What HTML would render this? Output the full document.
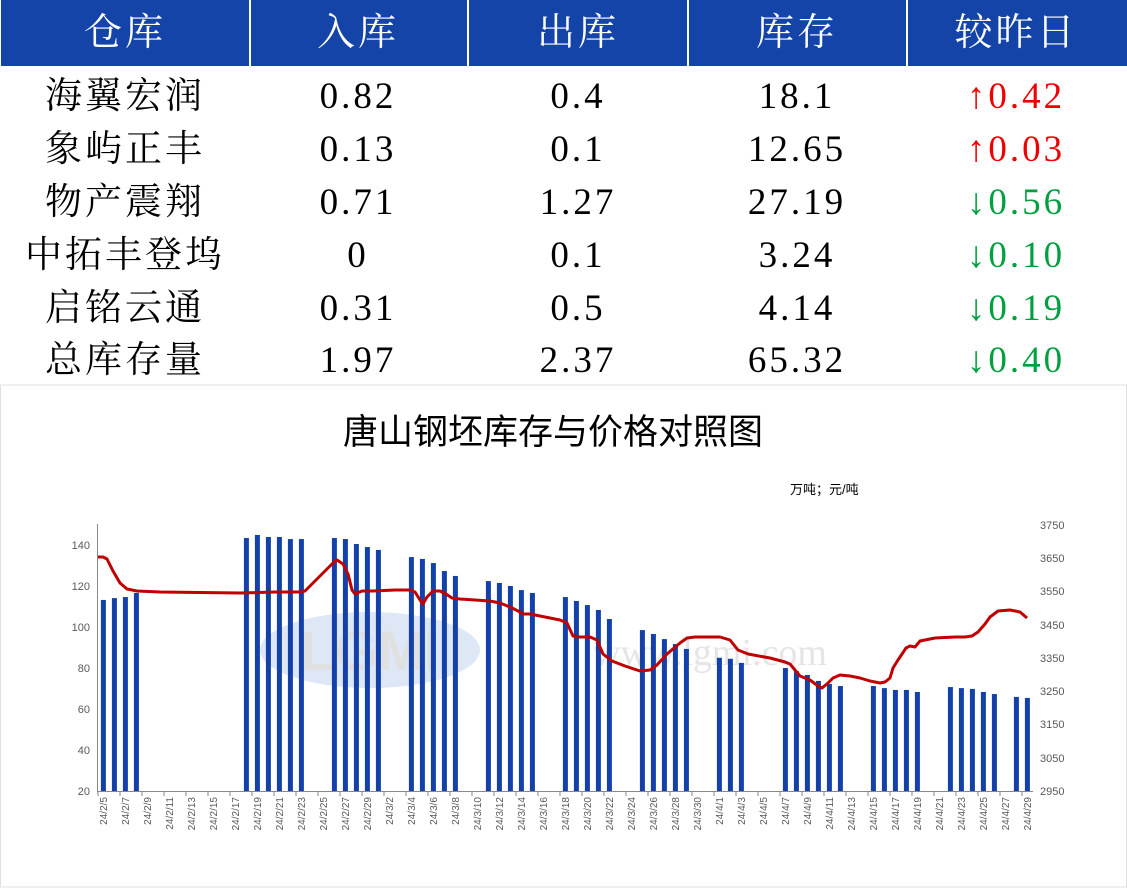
<!DOCTYPE html>
<html><head><meta charset="utf-8"><style>
body{margin:0;width:1127px;height:888px;background:#fff;overflow:hidden;position:relative;font-family:"Liberation Serif","Noto Serif CJK SC",serif}
.hd{position:absolute;left:1px;top:0;width:1126px;height:66px;background:#1544a8}
.c{position:absolute;text-align:center;width:220px;font-size:37px;line-height:52px;color:#000;letter-spacing:3px}
.h{color:#fff;font-size:38px;line-height:66px;top:0}
.sep{position:absolute;top:0;width:2px;height:66px;background:#fff}
.r{color:#e00}.g{color:#00a040}
</style></head><body>
<div class="hd"></div>
<div class="sep" style="left:249px"></div><div class="sep" style="left:467px"></div><div class="sep" style="left:687px"></div><div class="sep" style="left:906px"></div>
<div class="c h" style="left:15px">仓库</div><div class="c h" style="left:248px">入库</div><div class="c h" style="left:468px">出库</div><div class="c h" style="left:687px">库存</div><div class="c h" style="left:906px">较昨日</div>

<div class="c" style="left:15px;top:71px">海翼宏润</div><div class="c" style="left:248px;top:71px">0.82</div><div class="c" style="left:468px;top:71px">0.4</div><div class="c" style="left:687px;top:71px">18.1</div><div class="c r" style="left:906px;top:71px">↑0.42</div>
<div class="c" style="left:15px;top:124px">象屿正丰</div><div class="c" style="left:248px;top:124px">0.13</div><div class="c" style="left:468px;top:124px">0.1</div><div class="c" style="left:687px;top:124px">12.65</div><div class="c r" style="left:906px;top:124px">↑0.03</div>
<div class="c" style="left:15px;top:177px">物产震翔</div><div class="c" style="left:248px;top:177px">0.71</div><div class="c" style="left:468px;top:177px">1.27</div><div class="c" style="left:687px;top:177px">27.19</div><div class="c g" style="left:906px;top:177px">↓0.56</div>
<div class="c" style="left:15px;top:230px">中拓丰登坞</div><div class="c" style="left:248px;top:230px">0</div><div class="c" style="left:468px;top:230px">0.1</div><div class="c" style="left:687px;top:230px">3.24</div><div class="c g" style="left:906px;top:230px">↓0.10</div>
<div class="c" style="left:15px;top:283px">启铭云通</div><div class="c" style="left:248px;top:283px">0.31</div><div class="c" style="left:468px;top:283px">0.5</div><div class="c" style="left:687px;top:283px">4.14</div><div class="c g" style="left:906px;top:283px">↓0.19</div>
<div class="c" style="left:15px;top:335px">总库存量</div><div class="c" style="left:248px;top:335px">1.97</div><div class="c" style="left:468px;top:335px">2.37</div><div class="c" style="left:687px;top:335px">65.32</div><div class="c g" style="left:906px;top:335px">↓0.40</div>

<svg style="position:absolute;left:0;top:0" width="1127" height="888" font-family="Liberation Sans, Noto Sans CJK SC, sans-serif">
<rect x="0.5" y="385" width="1126" height="502" fill="none" stroke="#e0e0e0"/>
<text x="553" y="444" font-size="35" text-anchor="middle" fill="#000">唐山钢坯库存与价格对照图</text>
<text x="790" y="494" font-size="13" fill="#000">万吨；元/吨</text>
<g opacity="0.25"><ellipse cx="370" cy="650" rx="110" ry="38" fill="#7aa2d8"/><text x="370" y="670" font-size="56" text-anchor="middle" fill="#888" font-weight="bold">LGMI</text><text x="710" y="665" font-size="38" text-anchor="middle" fill="#999" font-family="Liberation Serif,serif">www.lgmi.com</text></g>
<g font-size="11" fill="#595959" text-anchor="end">
<text x="90" y="549">140</text><text x="90" y="590">120</text><text x="90" y="631">100</text><text x="90" y="672">80</text><text x="90" y="713">60</text><text x="90" y="754">40</text><text x="90" y="795">20</text>
</g>
<g font-size="11" fill="#595959">
<text x="1040" y="529">3750</text><text x="1040" y="562">3650</text><text x="1040" y="595">3550</text><text x="1040" y="629">3450</text><text x="1040" y="662">3350</text><text x="1040" y="695">3250</text><text x="1040" y="728">3150</text><text x="1040" y="762">3050</text><text x="1040" y="795">2950</text>
</g>
<line x1="97.5" y1="524" x2="97.5" y2="791" stroke="#888"/>
<line x1="97" y1="791.5" x2="1033" y2="791.5" stroke="#888"/>
<g id="bars" fill="#1341a9"></g>
<g id="ticks" stroke="#888"></g>
<polyline fill="none" stroke="#c00000" stroke-width="3" stroke-linejoin="round" points="98,557 103,557 107,559 113,571 120,583 127,589 137,591 160,592 240,593 275,592 300,592 305,591 320,576 334,562 337,560 343,564 348,574 352,590 355,594 362,591 372,591 395,590 410,590 415,592 420,600 423,604 427,597 433,591 440,591 446,594 452,598 460,599 490,601 500,603 510,607 518,611 523,614 530,614 545,617 560,620 567,623 573,636 580,637 590,637 597,640 603,654 612,661 625,666 640,671 650,670 657,665 667,654 680,643 687,638 695,637 720,637 730,640 738,650 748,654 770,658 785,662 790,664 795,670 800,676 810,680 818,686 822,688 828,683 833,678 840,675 850,676 860,678 870,681 880,683 885,682 890,678 893,668 898,660 902,654 906,648 910,646 915,647 920,641 925,640 935,638 955,637 965,637 972,636 978,632 985,624 990,617 998,611 1010,610 1020,612 1027,618"/>
<g font-size="10" fill="#595959" text-anchor="end">
<text transform="translate(107,797) rotate(-90)">24/2/5</text>
<text transform="translate(129,797) rotate(-90)">24/2/7</text>
<text transform="translate(151,797) rotate(-90)">24/2/9</text>
<text transform="translate(173,797) rotate(-90)">24/2/11</text>
<text transform="translate(195,797) rotate(-90)">24/2/13</text>
<text transform="translate(217,797) rotate(-90)">24/2/15</text>
<text transform="translate(239,797) rotate(-90)">24/2/17</text>
<text transform="translate(261,797) rotate(-90)">24/2/19</text>
<text transform="translate(283,797) rotate(-90)">24/2/21</text>
<text transform="translate(305,797) rotate(-90)">24/2/23</text>
<text transform="translate(327,797) rotate(-90)">24/2/25</text>
<text transform="translate(349,797) rotate(-90)">24/2/27</text>
<text transform="translate(371,797) rotate(-90)">24/2/29</text>
<text transform="translate(393,797) rotate(-90)">24/3/2</text>
<text transform="translate(415,797) rotate(-90)">24/3/4</text>
<text transform="translate(437,797) rotate(-90)">24/3/6</text>
<text transform="translate(459,797) rotate(-90)">24/3/8</text>
<text transform="translate(481,797) rotate(-90)">24/3/10</text>
<text transform="translate(503,797) rotate(-90)">24/3/12</text>
<text transform="translate(525,797) rotate(-90)">24/3/14</text>
<text transform="translate(547,797) rotate(-90)">24/3/16</text>
<text transform="translate(569,797) rotate(-90)">24/3/18</text>
<text transform="translate(591,797) rotate(-90)">24/3/20</text>
<text transform="translate(613,797) rotate(-90)">24/3/22</text>
<text transform="translate(635,797) rotate(-90)">24/3/24</text>
<text transform="translate(657,797) rotate(-90)">24/3/26</text>
<text transform="translate(679,797) rotate(-90)">24/3/28</text>
<text transform="translate(701,797) rotate(-90)">24/3/30</text>
<text transform="translate(723,797) rotate(-90)">24/4/1</text>
<text transform="translate(745,797) rotate(-90)">24/4/3</text>
<text transform="translate(767,797) rotate(-90)">24/4/5</text>
<text transform="translate(789,797) rotate(-90)">24/4/7</text>
<text transform="translate(811,797) rotate(-90)">24/4/9</text>
<text transform="translate(833,797) rotate(-90)">24/4/11</text>
<text transform="translate(855,797) rotate(-90)">24/4/13</text>
<text transform="translate(877,797) rotate(-90)">24/4/15</text>
<text transform="translate(899,797) rotate(-90)">24/4/17</text>
<text transform="translate(921,797) rotate(-90)">24/4/19</text>
<text transform="translate(943,797) rotate(-90)">24/4/21</text>
<text transform="translate(965,797) rotate(-90)">24/4/23</text>
<text transform="translate(987,797) rotate(-90)">24/4/25</text>
<text transform="translate(1009,797) rotate(-90)">24/4/27</text>
<text transform="translate(1031,797) rotate(-90)">24/4/29</text>
</g>
</svg>
<script>
var d={0:113.2,1:114.1,2:114.6,3:116.6,13:143.4,14:144.9,15:143.9,16:143.9,17:142.9,18:142.9,21:143.4,22:142.9,23:140.5,24:139.0,25:137.6,28:134.1,29:133.2,30:131.2,31:127.3,32:124.9,35:122.4,36:121.5,37:120.0,38:118.0,39:116.6,42:114.6,43:112.7,44:110.7,45:108.3,46:103.9,49:98.5,50:96.6,51:94.1,52:91.7,53:89.3,56:85.0,57:84.5,58:82.5,62:80.0,63:78.5,64:76.6,65:73.7,66:72.2,67:71.2,70:71.2,71:70.2,72:69.3,73:69.3,74:68.3,77:70.7,78:70.2,79:69.8,80:68.3,81:67.3,83:65.9,84:65.4};
var g=document.getElementById('bars'),s='';
for(var k in d){var x=103.4+11*k-2.5,y=791-(d[k]-20)/20*41;s+='<rect x="'+x+'" y="'+y+'" width="5" height="'+(791-y)+'"/>';}
g.innerHTML=s;var t='';
for(var i=0;i<=85;i+=2){var x=98+11*i;t+='<line x1="'+x+'" y1="791" x2="'+x+'" y2="796"/>';}
document.getElementById('ticks').innerHTML=t;
</script>
</body></html>
